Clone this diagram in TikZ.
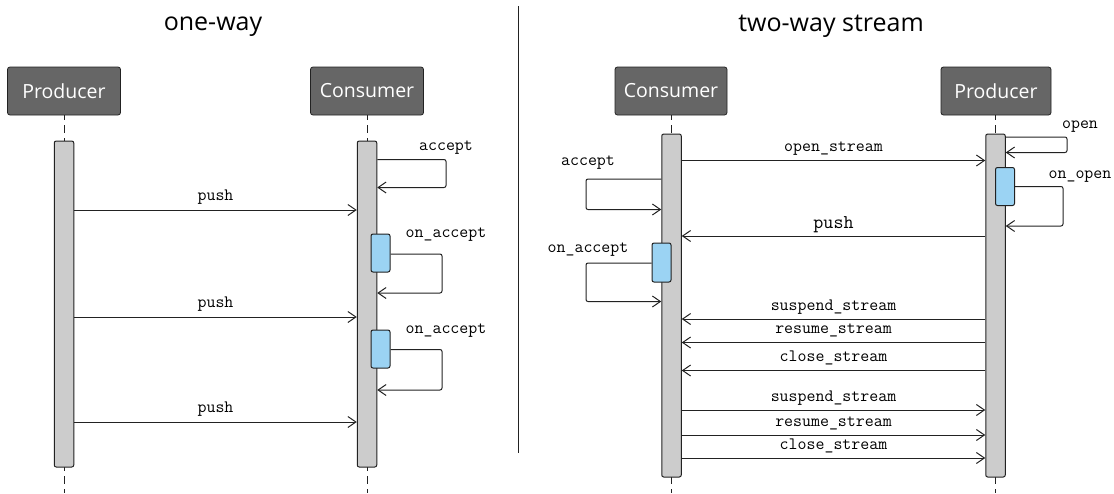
\documentclass[tikz,border=0pt]{standalone}
\usepackage{fontspec}
\setsansfont{Open Sans}
\usetikzlibrary{arrows.meta}
\definecolor{hdr}{HTML}{666666}
\definecolor{barg}{HTML}{CCCCCC}
\definecolor{actb}{HTML}{9BD3F3}
\definecolor{ln}{HTML}{222222}
\begin{document}
\begin{tikzpicture}[x=1pt,y=-1pt,
  actor/.style={draw=ln, fill=hdr, text=white, rounded corners=2.5pt, minimum width=113pt, minimum height=48pt, inner sep=0pt, font=\sffamily\fontsize{19.5}{20}\selectfont, line width=0.8pt},
  lifebar/.style={draw=ln, fill=barg, rounded corners=2pt, minimum width=19.5pt, inner sep=0pt, line width=1pt},
  actbox/.style={draw=ln, fill=actb, rounded corners=2pt, minimum width=19pt, minimum height=38pt, inner sep=0pt, line width=1pt},
  msg/.style={draw=ln, line width=1pt, -{Straight Barb[length=8pt,width=11pt]}},
  selfmsg/.style={msg, rounded corners=2pt},
  lbl/.style={font=\ttfamily\fontsize{17.4}{18}\selectfont, inner sep=0pt, text=black},
  mlbl/.style={lbl, anchor=base, yshift=9pt},
  lifeline/.style={draw=ln, line width=0.9pt, dash pattern=on 8pt off 5pt, dash phase=3pt},
  title/.style={font=\sffamily\fontsize{25}{26}\selectfont, inner sep=0pt, anchor=base}
]
\useasboundingbox (0,0) rectangle (1114,493);
\node[title] (t1) at (213,30) {one-way};
\node[title] (t2) at (831,31) {two-way stream};
\coordinate (dtop) at (518,6);
\coordinate (dbot) at (518,453);
\draw[ln, line width=1pt] (dtop) -- (dbot);

% actors
\node[actor] (P1) at (64,91) {Producer};
\node[actor] (C1) at (367,91) {Consumer};
\node[actor, minimum width=112pt] (C2) at (671,91) {Consumer};
\node[actor, minimum width=110pt] (P2) at (996,91) {Producer};

% lifelines
\coordinate (P1end) at (64,493);
\coordinate (C1end) at (367,493);
\coordinate (C2end) at (671.5,493);
\coordinate (P2end) at (995.5,493);
\draw[lifeline] (P1.south) -- (P1end);
\draw[lifeline] (C1.south) -- (C1end);
\draw[lifeline] (C2.south -| C2end) -- (C2end);
\draw[lifeline] (P2.south -| P2end) -- (P2end);

% activation bars
\node[lifebar, minimum height=326pt] (pb1) at (64,304) {};
\node[lifebar, minimum height=326pt] (cb1) at (367,304) {};
\node[lifebar, minimum height=343pt] (cb2) at (671.5,305.5) {};
\node[lifebar, minimum height=343pt] (pb2) at (995.5,305.5) {};

% nested activations
\node[actbox] (a1) at (380.5,253) {};
\node[actbox] (a2) at (380.5,349) {};
\node[actbox] (ao) at (1005,186.5) {};
\node[actbox, minimum height=39pt] (ar) at (661.5,262.5) {};

% ---------- one-way ----------
\draw[selfmsg] (cb1.east |- 0,159.5) -- (446,159.5) -- (446,187.5) -- (cb1.east |- 0,187.5);
\node[lbl, anchor=base] (la1) at (446,150) {accept};
\draw[msg] (pb1.east |- 0,210) -- node[mlbl, yshift=1pt] {push} (cb1.west |- 0,210);
\draw[selfmsg] (a1.east |- 0,254) -- (442,254) -- (442,293) -- (cb1.east |- 0,293);
\node[lbl, anchor=base] (lo1) at (446,237.5) {on\_accept};
\draw[msg] (pb1.east |- 0,317) -- node[mlbl, yshift=1pt] {push} (cb1.west |- 0,317);
\draw[selfmsg] (a2.east |- 0,349.5) -- (442,349.5) -- (442,390) -- (cb1.east |- 0,390);
\node[lbl, anchor=base] (lo2) at (446,333) {on\_accept};
\draw[msg] (pb1.east |- 0,422) -- node[mlbl, yshift=1pt] {push} (cb1.west |- 0,422);

% ---------- two-way stream ----------
\draw[selfmsg] (pb2.east |- 0,137) -- (1067,137) -- (1067,152.5) -- (pb2.east |- 0,152.5);
\node[lbl, anchor=base] (lop) at (1080,128) {open};
\draw[msg] (cb2.east |- 0,160.5) -- node[mlbl] {open\_stream} (pb2.west |- 0,160.5);
\draw[selfmsg] (ao.east |- 0,186.5) -- (1063,186.5) -- (1063,226) -- (pb2.east |- 0,226);
\node[lbl, anchor=base] (loo) at (1080,178) {on\_open};
\draw[selfmsg] (cb2.west |- 0,179) -- (586,179) -- (586,209.5) -- (cb2.west |- 0,209.5);
\node[lbl, anchor=base] (la2) at (588,165) {accept};
\draw[msg] (pb2.west |- 0,236) -- node[lbl, anchor=base, yshift=8pt, font=\ttfamily\fontsize{19.5}{20}\selectfont] {push} (cb2.east |- 0,236);
\draw[selfmsg] (ar.west |- 0,263) -- (586,263) -- (586,301.5) -- (cb2.west |- 0,301.5);
\node[lbl, anchor=base] (lo3) at (588,252) {on\_accept};
\draw[msg] (pb2.west |- 0,319) -- node[mlbl] {suspend\_stream} (cb2.east |- 0,319);
\draw[msg] (pb2.west |- 0,342.5) -- node[mlbl] {resume\_stream} (cb2.east |- 0,342.5);
\draw[msg] (pb2.west |- 0,370.5) -- node[mlbl] {close\_stream} (cb2.east |- 0,370.5);
\draw[msg] (cb2.east |- 0,410) -- node[mlbl] {suspend\_stream} (pb2.west |- 0,410);
\draw[msg] (cb2.east |- 0,435) -- node[mlbl] {resume\_stream} (pb2.west |- 0,435);
\draw[msg] (cb2.east |- 0,458) -- node[mlbl] {close\_stream} (pb2.west |- 0,458);
\end{tikzpicture}
\end{document}
